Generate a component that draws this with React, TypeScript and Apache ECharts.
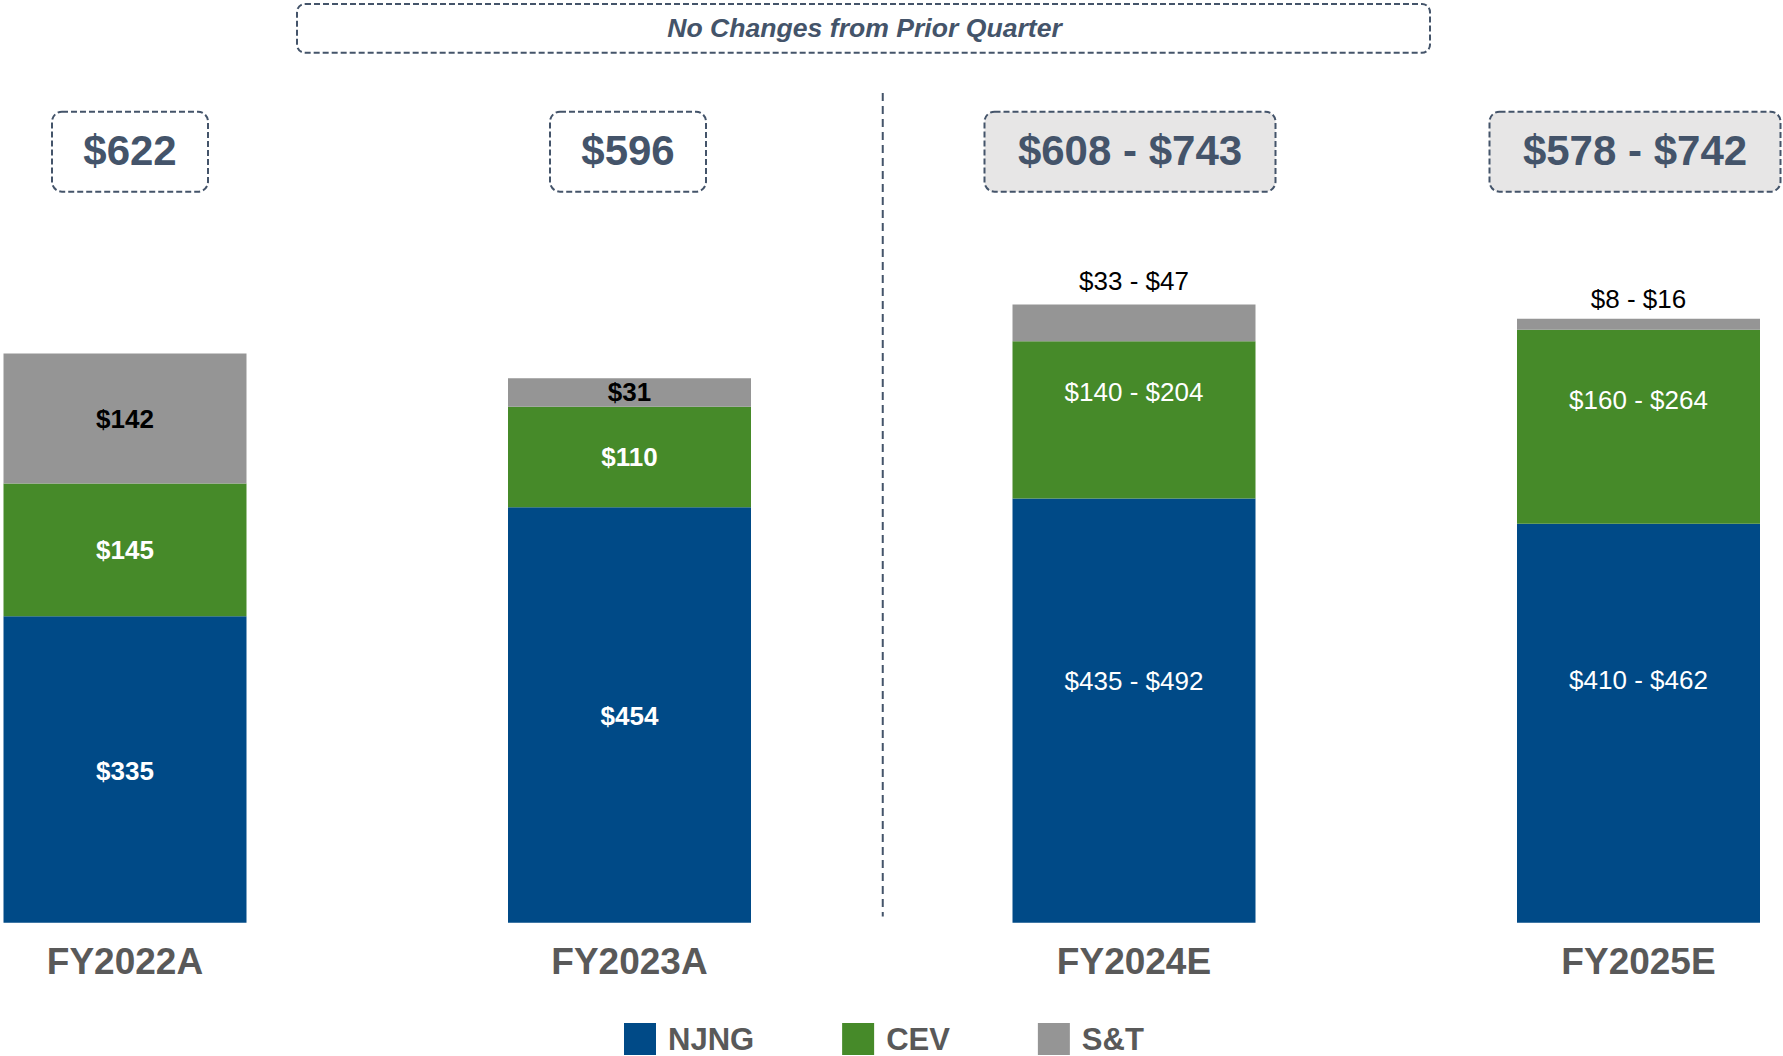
import React, { useEffect, useRef } from "react";
import * as echarts from "echarts";

const FONT = '"Liberation Sans", Arial, Helvetica, sans-serif';

const categories = ["FY2022A", "FY2023A", "FY2024E", "FY2025E"];
const seriesNames = ["NJNG", "CEV", "S&T"];
// bar heights (midpoints for estimate ranges)
const njngValues = [335, 454, 463.5, 436];
const cevValues = [145, 110, 172, 212];
const stValues = [142, 31, 40, 12];
const njngLabels = ["$335", "$454", "$435 - $492", "$410 - $462"];
const cevLabels = ["$145", "$110", "$140 - $204", "$160 - $264"];
const stLabels = ["$142", "$31", "$33 - $47", "$8 - $16"];
const totalLabels = ["$622", "$596", "$608 - $743", "$578 - $742"];
const isEstimate = [false, false, true, true];
const noteText = "No Changes from Prior Quarter";

// label / annotation layout tweaks (pixels)
const njngLabelOffset = [2, 1, -30, -43];
const cevLabelOffset = [0, 0, -28, -27];
const stTopDistance = [0, 0, 11, 7];
const totalBoxShift = [5, -1.5, -4, -3.5];

const COLORS = { njng: "#004A87", cev: "#468A29", st: "#959595", slate: "#44546A" };

export default function App() {
  const ref = useRef<HTMLDivElement>(null);

  useEffect(() => {
    if (!ref.current) return;
    const chart = echarts.init(ref.current, null, { renderer: "svg" });

    const labelBase = { fontFamily: FONT, fontSize: 26 };

    const option: any = {
      animation: false,
      backgroundColor: "#ffffff",
      grid: { left: 125, right: 144.5, top: 282.2, bottom: 133.3 },
      xAxis: {
        type: "category",
        data: categories,
        boundaryGap: false,
        axisLine: { show: false },
        axisTick: { show: false },
        splitLine: { show: false },
        axisLabel: {
          fontSize: 37,
          fontWeight: "bold",
          color: "#595959",
          fontFamily: FONT,
          margin: 20.5,
        },
      },
      yAxis: { type: "value", min: 0, max: 700, show: false },
      legend: {
        data: seriesNames,
        left: 619,
        top: 1018,
        orient: "horizontal",
        icon: "rect",
        itemWidth: 32,
        itemHeight: 32,
        itemGap: 88,
        textStyle: {
          fontSize: 31,
          fontWeight: "bold",
          color: "#595959",
          fontFamily: FONT,
          padding: [0, 0, 0, 7],
        },
      },
      series: [
        {
          name: "NJNG",
          type: "bar",
          stack: "total",
          barWidth: 243,
          clip: false,
          itemStyle: { color: COLORS.njng },
          data: njngValues.map((v, i) => ({
            value: v,
            label: {
              show: true,
              position: "inside",
              offset: [0, njngLabelOffset[i]],
              formatter: () => njngLabels[i],
              color: "#ffffff",
              fontWeight: isEstimate[i] ? "normal" : "bold",
              ...labelBase,
            },
          })),
        },
        {
          name: "CEV",
          type: "bar",
          stack: "total",
          barWidth: 243,
          clip: false,
          itemStyle: { color: COLORS.cev },
          data: cevValues.map((v, i) => ({
            value: v,
            label: {
              show: true,
              position: "inside",
              offset: [0, cevLabelOffset[i]],
              formatter: () => cevLabels[i],
              color: "#ffffff",
              fontWeight: isEstimate[i] ? "normal" : "bold",
              ...labelBase,
            },
          })),
        },
        {
          name: "S&T",
          type: "bar",
          stack: "total",
          barWidth: 243,
          clip: false,
          itemStyle: { color: COLORS.st },
          data: stValues.map((v, i) => ({
            value: v,
            label: isEstimate[i]
              ? {
                  show: true,
                  position: "top",
                  distance: stTopDistance[i],
                  formatter: () => stLabels[i],
                  color: "#000000",
                  fontWeight: "normal",
                  ...labelBase,
                }
              : {
                  show: true,
                  position: "inside",
                  formatter: () => stLabels[i],
                  color: "#000000",
                  fontWeight: "bold",
                  ...labelBase,
                },
          })),
        },
      ],
    };

    chart.setOption(option);

    const xs = categories.map((c) => chart.convertToPixel({ xAxisIndex: 0 }, c) as number);
    const boxTop = 111.7;
    const boxH = 80;
    const graphics: any[] = [];

    // note box at top
    graphics.push({
      type: "rect",
      shape: { x: 297, y: 4, width: 1133, height: 48.7, r: 8 },
      style: { fill: "#ffffff", stroke: COLORS.slate, lineWidth: 2, lineDash: [6, 3] },
      z: 10,
    });
    graphics.push({
      type: "text",
      x: 864.5,
      y: 27.7,
      style: {
        text: noteText,
        fill: COLORS.slate,
        fontSize: 26.6,
        fontWeight: "bold",
        fontStyle: "italic",
        fontFamily: FONT,
        align: "center",
        verticalAlign: "middle",
        textAlign: "center",
        textVerticalAlign: "middle",
      },
      z: 11,
    });

    // divider between actuals and estimates
    const divX = (xs[1] + xs[2]) / 2 + 1;
    graphics.push({
      type: "line",
      shape: { x1: divX, y1: 93, x2: divX, y2: 916.5 },
      style: { stroke: COLORS.slate, lineWidth: 2, lineDash: [8, 5] },
      z: 10,
    });

    // total boxes
    totalLabels.forEach((t, i) => {
      const w = isEstimate[i] ? 291 : 156;
      const cx = xs[i] + totalBoxShift[i];
      graphics.push({
        type: "rect",
        shape: { x: cx - w / 2, y: boxTop, width: w, height: boxH, r: 10 },
        style: {
          fill: isEstimate[i] ? "#E7E6E6" : "#ffffff",
          stroke: COLORS.slate,
          lineWidth: 2,
          lineDash: [6, 3],
        },
        z: 10,
      });
      graphics.push({
        type: "text",
        x: cx,
        y: boxTop + boxH / 2 - 1.5,
        style: {
          text: t,
          fill: COLORS.slate,
          fontSize: 42,
          fontWeight: "bold",
          fontFamily: FONT,
          align: "center",
          verticalAlign: "middle",
          textAlign: "center",
          textVerticalAlign: "middle",
        },
        z: 11,
      });
    });

    chart.setOption({ graphic: graphics });

    return () => {
      chart.dispose();
    };
  }, []);

  return (
    <div
      ref={ref}
      style={{ position: "absolute", left: 0, top: 0, width: 1783, height: 1056, background: "#ffffff" }}
    />
  );
}
